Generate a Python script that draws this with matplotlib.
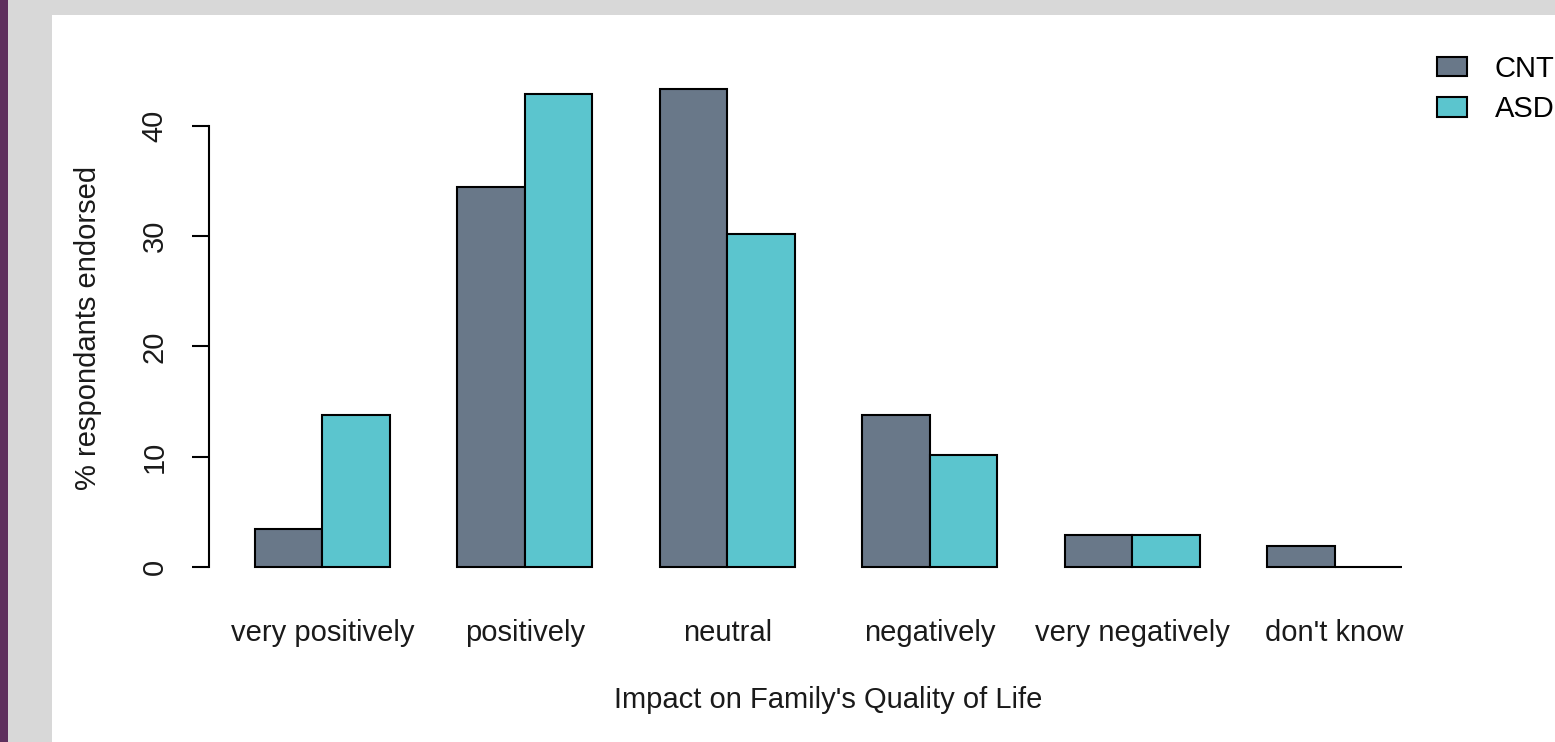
import matplotlib
matplotlib.use("Agg")
import matplotlib.pyplot as plt
from matplotlib.patches import Rectangle
import numpy as np

# data
categories = ["very positively", "positively", "neutral",
              "negatively", "very negatively", "don't know"]
cnt_values = [3.4, 34.5, 43.4, 13.8, 2.9, 1.9]
asd_values = [13.8, 42.9, 30.2, 10.2, 2.9, 0.0]
series_names = ["CNT", "ASD"]
y_ticks = [0, 10, 20, 30, 40]

cnt_color = "#697889"
asd_color = "#5bc5ce"

W, H = 1555, 742
plt.rcParams["font.family"] = ["Liberation Sans", "DejaVu Sans"]
fig = plt.figure(figsize=(W / 100, H / 100), dpi=100, facecolor="#d8d8d8")

# page background: purple strip on the left, white panel
fig.add_artist(Rectangle((0, 0), 8 / W, 1, transform=fig.transFigure,
                         facecolor="#5e2f5d", edgecolor="none", zorder=-10))
fig.add_artist(Rectangle((52 / W, 0), 1 - 52 / W, (H - 15) / H,
                         transform=fig.transFigure, facecolor="white",
                         edgecolor="none", zorder=-10))

x0, x1 = 209, 1448
y_top, y_bot = 69.4, 586.1
ax = fig.add_axes([x0 / W, (H - y_bot) / H, (x1 - x0) / W, (y_bot - y_top) / H])
ax.set_facecolor("none")

n = len(categories)
grp = np.arange(n) * 3
ax.bar(grp + 1, cnt_values, width=1, align="edge", color=cnt_color,
       edgecolor="black", linewidth=1.5, label=series_names[0])
ax.bar(grp + 2, asd_values, width=1, align="edge", color=asd_color,
       edgecolor="black", linewidth=1.5, label=series_names[1])

top = max(max(cnt_values), max(asd_values))
ax.set_xlim(1 - 0.04 * 17, 18 + 0.04 * 17)
ax.set_ylim(-0.04 * top, top * 1.04)

for s in ["top", "right", "bottom"]:
    ax.spines[s].set_visible(False)
ax.spines["left"].set_bounds(0, 40)
ax.spines["left"].set_linewidth(1.5)
ax.set_yticks(y_ticks)
ax.set_yticklabels([str(t) for t in y_ticks], rotation=90, va="center",
                   fontsize=21, color="#1a1a1a")
ax.tick_params(axis="y", length=12, width=1.5, pad=17)

ax.set_xticks(grp + 2)
ax.set_xticklabels(categories, fontsize=21, color="#1a1a1a")
ax.tick_params(axis="x", length=0, pad=24)

ax.set_xlabel("Impact on Family's Quality of Life", fontsize=21,
              color="#1a1a1a", labelpad=28)
ax.set_ylabel("% respondants endorsed", fontsize=21, color="#1a1a1a",
              labelpad=28)

ax.legend(loc="upper left", bbox_to_anchor=(1437 / W, 1 - 55 / H),
          bbox_transform=fig.transFigure, frameon=False, fontsize=21,
          handlelength=1.03, handleheight=0.65, handletextpad=0.95,
          labelspacing=0.42, borderpad=0, borderaxespad=0)

fig.savefig("out.png", dpi=100, facecolor=fig.get_facecolor())
